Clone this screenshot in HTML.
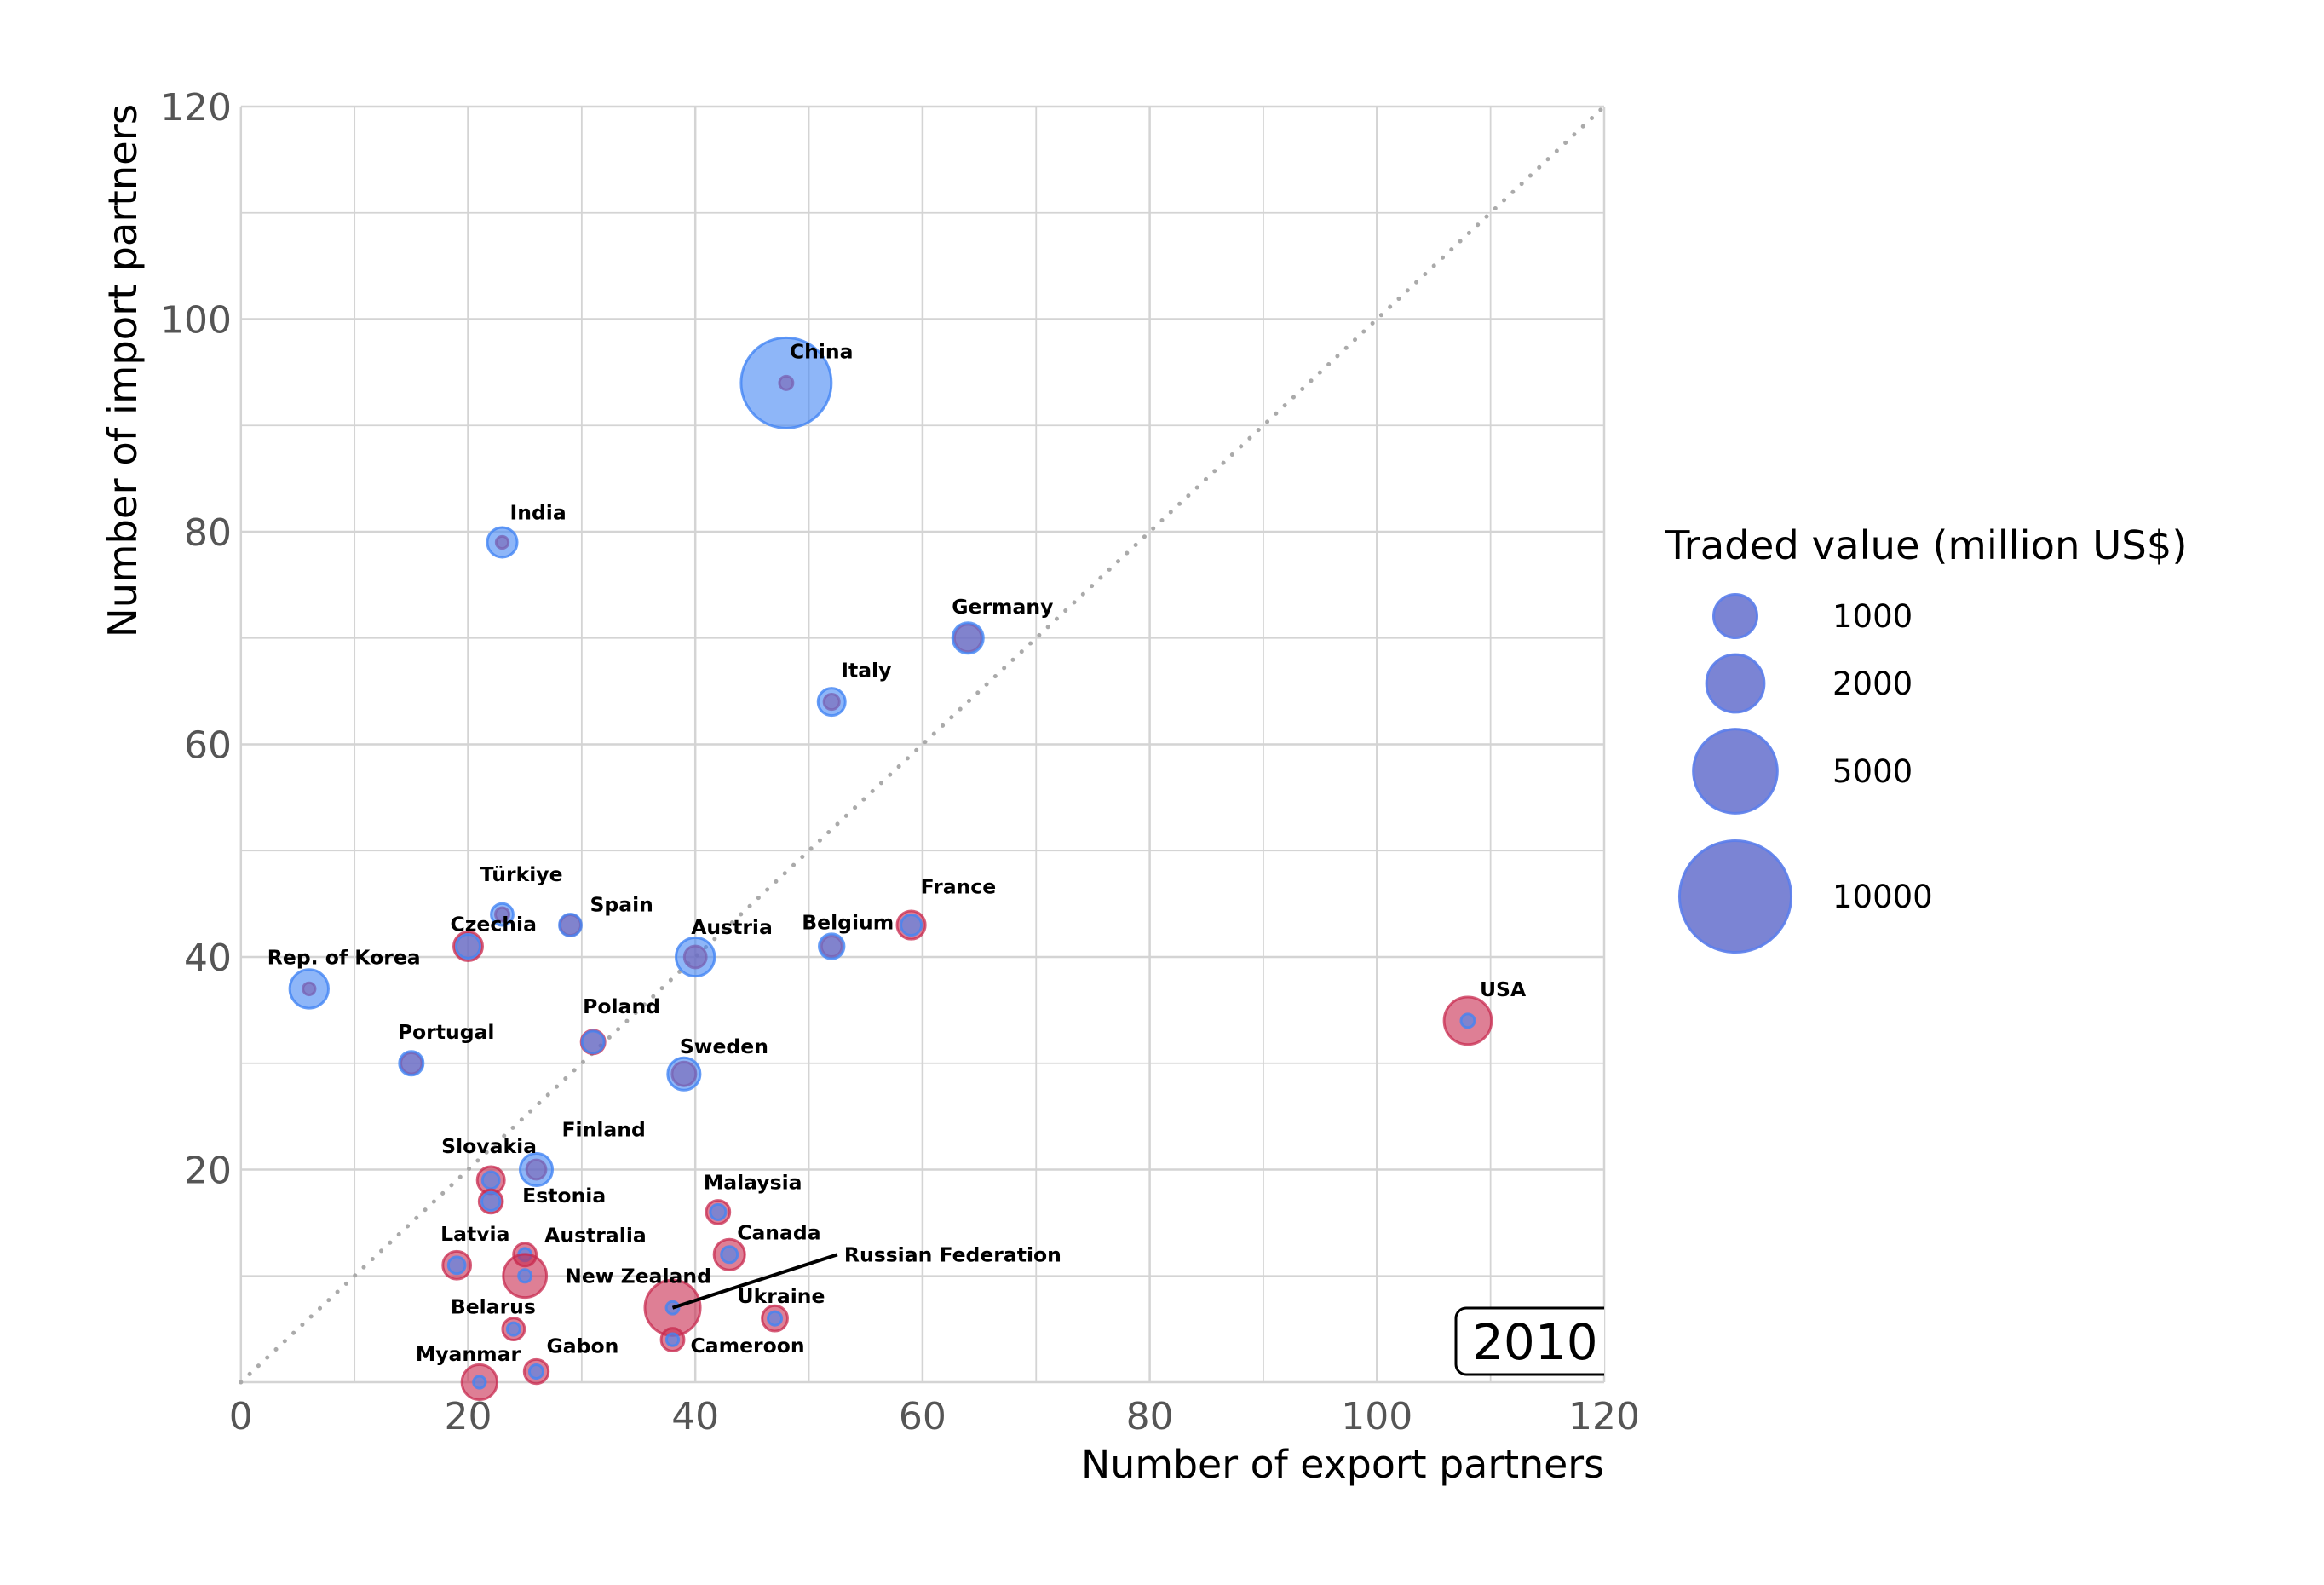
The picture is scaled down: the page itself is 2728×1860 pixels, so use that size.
<!DOCTYPE html>
<html><head><meta charset="utf-8"><title>Trade partners 2010</title>
<style>
html,body{margin:0;padding:0;background:#fff;}
svg{display:block;font-family:"DejaVu Sans","Liberation Sans",sans-serif;}
</style></head>
<body>
<svg id="chart" width="2728" height="1860" viewBox="0 0 2728 1860" xmlns="http://www.w3.org/2000/svg">
<rect x="0" y="0" width="2728" height="1860" fill="#fff"/>
<g id="grid"></g>
<line id="diag" stroke="#aaaaaa" stroke-width="5" stroke-dasharray="0.1 14" stroke-linecap="round"/>
<g id="marks"></g>
<g id="labels"></g>
<g id="ticks"></g>
<text x="1883" y="1734" text-anchor="end" font-size="45.8" fill="#000">Number of export partners</text>
<text transform="translate(160,435) rotate(-90)" text-anchor="middle" font-size="46.5" fill="#000">Number of import partners</text>
<g>
<clipPath id="plotclip"><rect x="282" y="100" width="1601" height="1540"/></clipPath>
<rect clip-path="url(#plotclip)" x="1709" y="1535" width="200" height="78" rx="12" ry="12" fill="#fff" stroke="#000" stroke-width="3"/>
<text x="1728" y="1595" font-size="58" fill="#000">2010</text>
</g>
<g id="legend">
<text x="1955" y="656" font-size="46.5" fill="#000">Traded value (million US$)</text>
</g>
</svg>
<script>
const countries = ["China","India","Germany","Italy","Türkiye","Spain","Czechia","Rep. of Korea","Austria","Belgium","France","USA","Portugal","Poland","Sweden","Finland","Slovakia","Estonia","Malaysia","Latvia","Australia","New Zealand","Canada","Russian Federation","Belarus","Ukraine","Cameroon","Gabon","Myanmar"];
const exportPartners = [48,23,64,52,23,29,20,6,40,52,59,108,15,31,39,26,22,22,42,19,25,25,43,38,24,47,38,26,21];
const importPartners = [94,79,70,64,44,43,41,37,40,41,43,34,30,32,29,20,19,17,16,11,12,10,12,7,5,6,4,1,0];
const blueValues = [5950,400,430,320,190,190,231,750,750,260,160,59,231,190,490,490,100,120,80,100,50,50,90,50,50,60,45,60,45];
const redValues = [59,45,320,80,59,160,370,45,190,160,350,1240,170,231,231,140,320,225,225,340,210,990,430,1810,190,270,210,240,600];
const labelDx = [4,9,-19,11,-26,23,-21,-49,-5,-35,11,14,-16,-12,-5,30,-58,37,-17,-19,23,47,9,0,-74,-44,21,12,-75];
const labelDy = [-37,-35,-37,-37,-47,-24,-26,-37,-35,-28,-45,-37,-37,-42,-32,-47,-40,-7,-35,-37,-23,0,-26,0,-26,-26,7,-30,-33];
const legendValues = [1000,2000,5000,10000];
const xTickValues = [0,20,40,60,80,100,120];
const yTickValues = [20,40,60,80,100,120];
const gridValues = [0,10,20,30,40,50,60,70,80,90,100,110,120];

const X0=282.8, X1=1883, Y0=1622, Y1=125;
const xs = v => X0 + (v/120)*(X1-X0);
const ys = v => Y0 - (v/120)*(Y0-Y1);
const rs = v => 25.5*Math.pow(v/1000,0.41);
const NS="http://www.w3.org/2000/svg";
function mk(tag, attrs, parent){const e=document.createElementNS(NS,tag);for(const k in attrs)e.setAttribute(k,attrs[k]);parent.appendChild(e);return e;}

const grid=document.getElementById('grid');
gridValues.forEach(v=>{
  const major = v%20===0;
  const gl=mk('line',{x1:xs(v),x2:xs(v),y1:ys(0),y2:ys(120),stroke:'#d4d4d4','stroke-width':major?2.5:1.8},grid);
  
  
  const hl=mk('line',{x1:xs(0),x2:xs(120),y1:ys(v),y2:ys(v),stroke:'#d4d4d4','stroke-width':major?2.5:1.8},grid);
  
  
});
const diag=document.getElementById('diag');
diag.setAttribute('x1',xs(0));diag.setAttribute('y1',ys(0));diag.setAttribute('x2',xs(120));diag.setAttribute('y2',ys(120));

const ticks=document.getElementById('ticks');
xTickValues.forEach(v=>{
  const tx=mk('text',{x:xs(v),y:1677,'text-anchor':'middle','font-size':44,fill:'#555'},ticks);
  tx.textContent=v;
  
  
});
yTickValues.forEach(v=>{
  const ty=mk('text',{x:272,y:ys(v)+16,'text-anchor':'end','font-size':44,fill:'#555'},ticks);
  ty.textContent=v;
  
  
});

const marks=document.getElementById('marks');
const BLUE={fill:'rgba(66,133,244,0.6)',stroke:'rgba(66,133,244,0.8)'};
const RED={fill:'rgba(200,41,79,0.6)',stroke:'rgba(200,41,79,0.75)'};
countries.forEach((c,i)=>{
  const cx=xs(exportPartners[i]), cy=ys(importPartners[i]);
  const slug=c.toLowerCase().replace(/[^a-z]+/g,'-');
  const red=mk('circle',{cx:cx,cy:cy,r:rs(redValues[i]),fill:RED.fill,stroke:RED.stroke,'stroke-width':3},marks);
  
  
  const blue=mk('circle',{cx:cx,cy:cy,r:rs(blueValues[i]),fill:BLUE.fill,stroke:BLUE.stroke,'stroke-width':3},marks);
  
  
});

const labels=document.getElementById('labels');
countries.forEach((c,i)=>{
  const px=xs(exportPartners[i]), py=ys(importPartners[i]);
  let lx=px+labelDx[i], ly=py+labelDy[i];
  if(c==="Russian Federation"){
    const ex=xs(52.5), ey=ys(12);
    const ln=mk('line',{x1:px,y1:py,x2:ex,y2:ey,stroke:'#000','stroke-width':4},labels);
    
    
    lx=ex+8; ly=ey;
  }
  const t=mk('text',{x:lx,y:ly+8,'font-size':23.5,'font-weight':'bold',fill:'#000'},labels);
  t.textContent=c;
  
  
});

const legend=document.getElementById('legend');
const legendY=[723,802,905,1052];
legendValues.forEach((v,i)=>{
  const c=mk('circle',{cx:2037,cy:legendY[i],r:rs(v),fill:'rgba(100,110,205,0.85)',stroke:'rgba(90,125,235,0.9)','stroke-width':3},legend);
  
  
  const t=mk('text',{x:2151,y:legendY[i]+13,'font-size':37,fill:'#000'},legend);
  t.textContent=v;
  
  
});
</script>
</body></html>
